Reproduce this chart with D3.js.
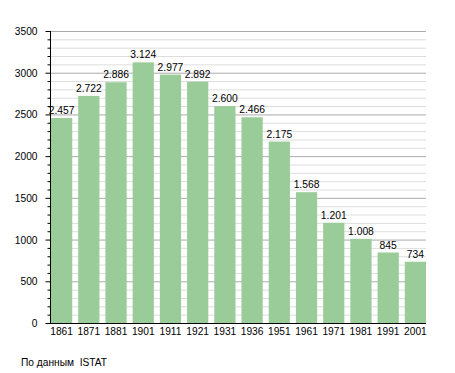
<!DOCTYPE html>
<html>
<head>
<meta charset="utf-8">
<script src="https://cdn.jsdelivr.net/npm/d3@7"></script>
<style>
  body { margin: 0; background: #fff; }
  svg { font-family: "Liberation Sans", Arial, sans-serif; }
</style>
</head>
<body>
<div id="chart"></div>
<script>
// data
const years = ['1861','1871','1881','1901','1911','1921','1931','1936','1951','1961','1971','1981','1991','2001'];
const population = [2457, 2722, 2886, 3124, 2977, 2892, 2600, 2466, 2175, 1568, 1201, 1008, 845, 734];
const yTicks = [0, 500, 1000, 1500, 2000, 2500, 3000, 3500];
const source = 'По данным  ISTAT';

const width = 455, height = 373;
const plotLeft = 50, plotRight = 426, plotTop = 31, plotBottom = 323;

const svg = d3.select('#chart').append('svg')
    .attr('width', width).attr('height', height);

const scaleX = d3.scaleBand(years, [plotLeft + 1, plotRight]).paddingInner(0.22).paddingOuter(0);
const scaleY = d3.scaleLinear([0, 3500], [plotBottom, plotTop]);

// grid, minor every 100, major every 500
const minor = d3.range(100, 3501, 100).filter(v => v % 500 !== 0);
svg.append('g').selectAll('line')
    .data(minor).join('line')
    .attr('x1', plotLeft).attr('x2', plotRight)
    .attr('y1', d => scaleY(d) + 0.5).attr('y2', d => scaleY(d) + 0.5)
    .attr('stroke', '#dddddd').attr('stroke-width', 1);
svg.append('g').selectAll('line')
    .data(yTicks.slice(1)).join('line')
    .attr('x1', plotLeft).attr('x2', plotRight)
    .attr('y1', d => scaleY(d) + 0.5).attr('y2', d => scaleY(d) + 0.5)
    .attr('stroke', '#aaaaaa').attr('stroke-width', 1);

// bars
const data = years.map((y, i) => [y, population[i]]);
svg.append('g').selectAll('rect')
    .data(data).join('rect')
    .attr('x', d => scaleX(d[0]))
    .attr('y', d => scaleY(d[1]))
    .attr('width', scaleX.bandwidth())
    .attr('height', d => scaleY(0) - scaleY(d[1]))
    .attr('fill', '#99cc99');

// value labels
const fmt = v => v >= 1000 ? d3.format(',')(v).replace(',', '.') : String(v);
svg.append('g').selectAll('text')
    .data(data).join('text')
    .attr('x', d => scaleX(d[0]) + scaleX.bandwidth() / 2)
    .attr('y', d => scaleY(d[1]) - 4)
    .attr('text-anchor', 'middle')
    .attr('font-size', 10.3)
    .attr('fill', '#000')
    .text(d => fmt(d[1]));

// y axis
const axisY = svg.append('g').attr('transform', `translate(${plotLeft + 0.5},0)`);
axisY.append('line')
    .attr('y1', plotTop).attr('y2', plotBottom + 0.5)
    .attr('stroke', '#000');
axisY.selectAll('line.minor')
    .data(d3.range(0, 3501, 100)).join('line')
    .classed('minor', true)
    .attr('x1', d => d % 500 === 0 ? -5 : -3).attr('x2', 0)
    .attr('y1', d => scaleY(d) + 0.5).attr('y2', d => scaleY(d) + 0.5)
    .attr('stroke', '#000');
axisY.selectAll('text')
    .data(yTicks).join('text')
    .attr('x', -13)
    .attr('y', d => scaleY(d) + 4)
    .attr('text-anchor', 'end')
    .attr('font-size', 10.2)
    .text(d => d);

// x axis
svg.append('line')
    .attr('x1', plotLeft).attr('x2', plotRight)
    .attr('y1', plotBottom + 0.5).attr('y2', plotBottom + 0.5)
    .attr('stroke', '#000');
svg.append('g').selectAll('text')
    .data(years).join('text')
    .attr('x', d => scaleX(d) + scaleX.bandwidth() / 2)
    .attr('y', plotBottom + 12)
    .attr('text-anchor', 'middle')
    .attr('font-size', 10.2)
    .text(d => d);

// source
svg.append('text')
    .attr('x', 21).attr('y', 366)
    .attr('font-size', 10.2)
    .style('white-space', 'pre')
    .text(source);
</script>
</body>
</html>
